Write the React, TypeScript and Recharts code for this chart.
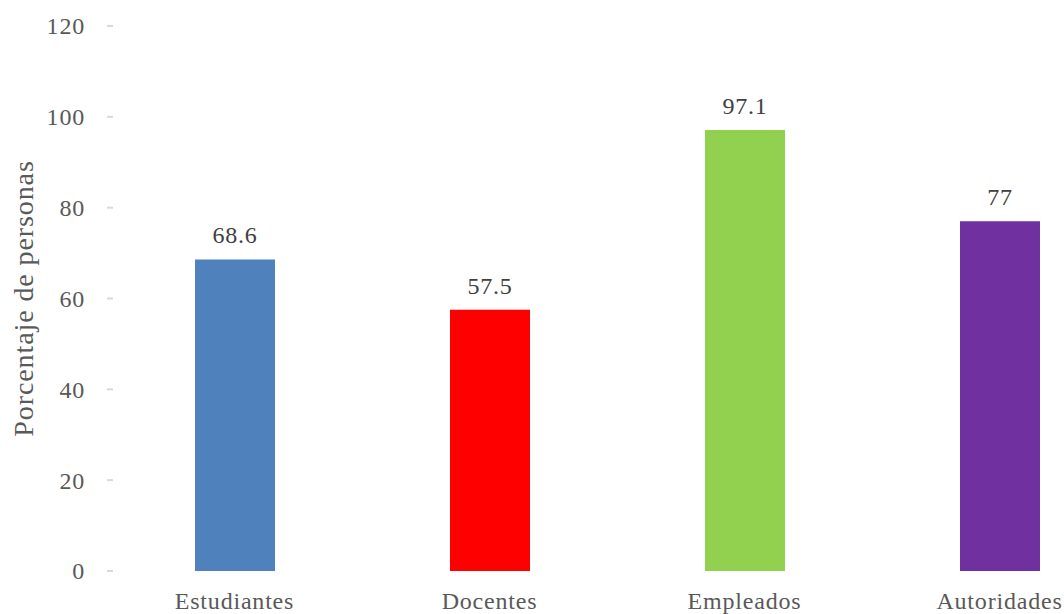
import React from "react";
import { BarChart, Bar, XAxis, YAxis, Cell, LabelList } from "recharts";

const categories = ["Estudiantes", "Docentes", "Empleados", "Autoridades"];
const values = [68.6, 57.5, 97.1, 77];
const colors = ["#4F81BD", "#FF0000", "#92D050", "#7030A0"];
const yTicks = [0, 20, 40, 60, 80, 100, 120];
const yLabel = "Porcentaje de personas";

const data = categories.map((c, i) => ({ name: c, value: values[i] }));

const FONT = "'Liberation Serif', serif";
const FS = 24;
const LS = 0.8;

const YTick = (props: any) => {
  const { x, y, payload } = props;
  return (
    <g>
      <text
        x={x - 22}
        y={y}
        dy="0.35em"
        textAnchor="end"
        fill="#595959"
        fontFamily={FONT}
        fontSize={FS}
        letterSpacing={LS}
      >
        {payload.value}
      </text>
      <line x1={x} x2={x + 6} y1={y} y2={y} stroke="#d9d9d9" strokeWidth={2} />
    </g>
  );
};

export default function App() {
  return (
    <div
      style={{
        position: "absolute",
        left: 0,
        top: 0,
        width: 1064,
        height: 614,
        overflow: "hidden",
        background: "#fff",
      }}
    >
      <BarChart
        width={1127}
        height={614}
        data={data}
        margin={{ top: 26, right: 0, bottom: 0, left: 0 }}
      >
        <XAxis
          dataKey="name"
          axisLine={false}
          tickLine={false}
          tickSize={0}
          tickMargin={21}
          height={43}
          interval={0}
          tick={{ fill: "#595959", fontFamily: FONT, fontSize: FS, letterSpacing: LS }}
        />
        <YAxis
          domain={[0, 120]}
          ticks={yTicks}
          width={107}
          axisLine={false}
          tickLine={false}
          tickSize={0}
          tickMargin={0}
          tick={<YTick />}
          label={{
            value: yLabel,
            angle: -90,
            position: "insideLeft",
            dx: 18,
            fill: "#595959",
            fontFamily: FONT,
            fontSize: 28,
            letterSpacing: 0.9,
            style: { textAnchor: "middle" },
          }}
        />
        <Bar dataKey="value" barSize={80} isAnimationActive={false}>
          {data.map((d, i) => (
            <Cell key={d.name} fill={colors[i]} />
          ))}
          <LabelList
            dataKey="value"
            position="top"
            offset={16}
            fill="#404040"
            fontFamily={FONT}
            fontSize={FS}
            letterSpacing={LS}
          />
        </Bar>
      </BarChart>
    </div>
  );
}
